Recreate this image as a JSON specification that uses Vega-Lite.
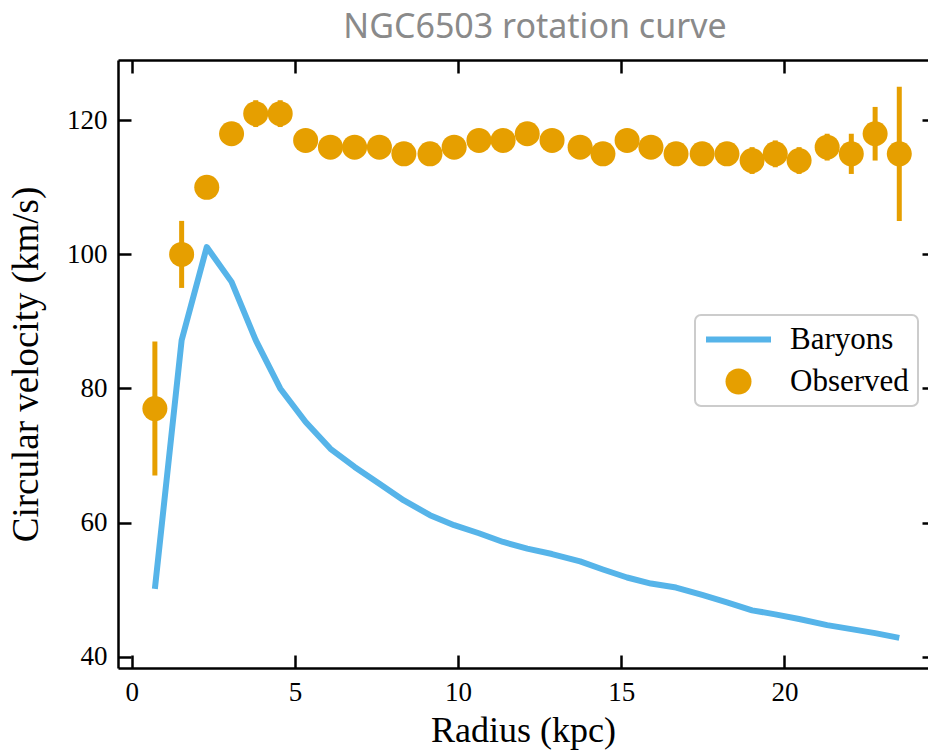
{
  "$schema": "https://vega.github.io/schema/vega-lite/v6.json",
  "width": 810,
  "height": 608,
  "autosize": {"type": "none"},
  "padding": {"left": 118, "top": 60, "right": 0, "bottom": 83},
  "background": "white",
  "title": {"text": "NGC6503 rotation curve", "font": "Noto Sans", "fontSize": 34, "fontWeight": "normal", "color": "#8a8a8a", "anchor": "middle", "dx": 12, "offset": 14},
  "config": {
    "view": {"stroke": null},
    "axis": {
      "domainColor": "black", "domainWidth": 2.5, "tickColor": "black", "tickWidth": 2.5, "tickSize": -13,
      "grid": false, "labelFont": "Liberation Serif", "labelFontSize": 27, "labelColor": "black",
      "titleFont": "Liberation Serif", "titleFontSize": 37, "titleFontWeight": "normal", "titleColor": "black"
    }
  },
  "data": {"values": [
    {"r": 0.71, "v": 77, "err": 10, "vbar": 50.1},
    {"r": 1.53, "v": 100, "err": 5, "vbar": 87.2},
    {"r": 2.30, "v": 110, "err": 1.5, "vbar": 101.1},
    {"r": 3.06, "v": 118, "err": 1.5, "vbar": 95.9},
    {"r": 3.80, "v": 121, "err": 2.0, "vbar": 87.2},
    {"r": 4.55, "v": 121, "err": 2.0, "vbar": 80.0},
    {"r": 5.33, "v": 117, "err": 1.5, "vbar": 75.0},
    {"r": 6.09, "v": 116, "err": 1.5, "vbar": 71.0},
    {"r": 6.83, "v": 116, "err": 1.5, "vbar": 68.3},
    {"r": 7.59, "v": 116, "err": 1.5, "vbar": 65.8},
    {"r": 8.34, "v": 115, "err": 1.5, "vbar": 63.3},
    {"r": 9.14, "v": 115, "err": 1.5, "vbar": 61.1},
    {"r": 9.88, "v": 116, "err": 1.5, "vbar": 59.6},
    {"r": 10.64, "v": 117, "err": 1.5, "vbar": 58.4},
    {"r": 11.38, "v": 117, "err": 1.5, "vbar": 57.1},
    {"r": 12.12, "v": 118, "err": 1.5, "vbar": 56.1},
    {"r": 12.88, "v": 117, "err": 1.5, "vbar": 55.3},
    {"r": 13.74, "v": 116, "err": 1.5, "vbar": 54.2},
    {"r": 14.44, "v": 115, "err": 1.5, "vbar": 53.0},
    {"r": 15.18, "v": 117, "err": 1.5, "vbar": 51.8},
    {"r": 15.91, "v": 116, "err": 1.5, "vbar": 50.9},
    {"r": 16.68, "v": 115, "err": 1.5, "vbar": 50.3},
    {"r": 17.48, "v": 115, "err": 1.5, "vbar": 49.2},
    {"r": 18.24, "v": 115, "err": 1.5, "vbar": 48.1},
    {"r": 19.01, "v": 114, "err": 2.0, "vbar": 46.9},
    {"r": 19.72, "v": 115, "err": 2.0, "vbar": 46.3},
    {"r": 20.45, "v": 114, "err": 2.0, "vbar": 45.6},
    {"r": 21.31, "v": 116, "err": 2.0, "vbar": 44.7},
    {"r": 22.05, "v": 115, "err": 3, "vbar": 44.1},
    {"r": 22.78, "v": 118, "err": 4, "vbar": 43.5},
    {"r": 23.52, "v": 115, "err": 10, "vbar": 42.8}
  ]},
  "layer": [
    {
      "mark": {"type": "line", "color": "#56B4E9", "strokeWidth": 6, "strokeJoin": "round"},
      "encoding": {
        "x": {"field": "r", "type": "quantitative", "scale": {"domain": [-0.42, 24.40], "nice": false, "zero": false},
              "axis": {"orient": "bottom", "values": [0, 5, 10, 15, 20], "labelPadding": 24, "title": "Radius (kpc)", "titleFontSize": 36, "titlePadding": 8}},
        "y": {"field": "vbar", "type": "quantitative", "scale": {"domain": [38.3, 129.0], "nice": false, "zero": false},
              "axis": {"orient": "left", "values": [40, 60, 80, 100, 120], "labelPadding": 24, "title": "Circular velocity (km/s)", "titlePadding": 21}},
        "color": {"datum": "Baryons", "type": "nominal",
          "scale": {"domain": ["Baryons", "Observed"], "range": ["#56B4E9", "#E69F00"]},
          "legend": {
            "orient": "none", "legendX": 577, "legendY": 255, "title": null,
            "labelFont": "Liberation Serif", "labelFontSize": 31, "labelColor": "black",
            "symbolOffset": 19, "labelOffset": 36, "padding": 9, "rowPadding": 10,
            "strokeColor": "#cccccc", "cornerRadius": 6, "fillColor": "white",
            "encode": {
              "legend": {"update": {"strokeWidth": {"value": 2}}},
              "symbols": {"update": {
                "shape": {"signal": "datum.value === 'Baryons' ? 'stroke' : 'circle'"},
                "size": {"signal": "datum.value === 'Baryons' ? 4225 : 676"},
                "strokeWidth": {"signal": "datum.value === 'Baryons' ? 6 : 0"},
                "fill": {"signal": "datum.value === 'Baryons' ? 'transparent' : '#E69F00'"},
                "stroke": {"signal": "datum.value === 'Baryons' ? '#56B4E9' : 'transparent'"},
                "opacity": {"value": 1}
              }}
            }
          }
        }
      }
    },
    {
      "mark": {"type": "errorbar", "ticks": false, "color": "#E69F00", "thickness": 5},
      "encoding": {
        "x": {"field": "r", "type": "quantitative", "scale": {"domain": [-0.42, 24.40], "nice": false, "zero": false}, "axis": null},
        "y": {"field": "v", "type": "quantitative", "scale": {"domain": [38.3, 129.0], "nice": false, "zero": false}, "axis": null},
        "yError": {"field": "err"}
      }
    },
    {
      "mark": {"type": "point", "filled": true, "size": 625, "opacity": 1, "shape": "circle"},
      "encoding": {
        "x": {"field": "r", "type": "quantitative", "scale": {"domain": [-0.42, 24.40], "nice": false, "zero": false},
              "axis": {"orient": "top", "values": [0, 5, 10, 15, 20], "labels": false, "title": null}},
        "y": {"field": "v", "type": "quantitative", "scale": {"domain": [38.3, 129.0], "nice": false, "zero": false},
              "axis": {"orient": "right", "values": [40, 60, 80, 100, 120], "labels": false, "title": null, "domain": false, "tickSize": -6}},
        "color": {"datum": "Observed", "type": "nominal"}
      }
    }
  ],
  "resolve": {"axis": {"x": "independent", "y": "independent"}}
}
